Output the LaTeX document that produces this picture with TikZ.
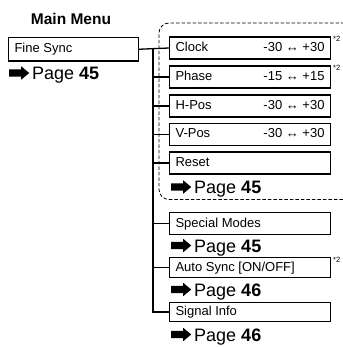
\documentclass[tikz,border=0pt]{standalone}
\usepackage{fontspec}
\setmainfont{Liberation Sans}
\usetikzlibrary{shapes.arrows}
\begin{document}
\begin{tikzpicture}[x=1pt,y=-1pt,
  menubox/.style={draw, line width=1.1pt, anchor=west, inner xsep=6pt, inner ysep=0pt,
    minimum height=22pt, text height=9.5pt, text depth=2.5pt,
    font=\fontsize{13}{13}\selectfont},
  smallbox/.style={menubox, minimum height=19.5pt},
  pagetext/.style={anchor=base west, inner sep=0pt, font=\fontsize{18}{18}\selectfont},
  pagearrow/.style={single arrow, fill=black, draw=none, anchor=tail, inner sep=3.5pt,
    minimum height=20pt, single arrow head extend=3pt, single arrow tip angle=80},
  note/.style={anchor=north west, inner sep=0pt, font=\fontsize{7.5}{7.5}\selectfont},
  conn/.style={line width=1.3pt},
]
\useasboundingbox (0,0) rectangle (342,347);

% dashed group frame
\draw[line width=0.8pt, dash pattern=on 3.5pt off 2pt, rounded corners=10pt]
  (350,23) -- (159,23) -- (159,199.5) -- (350,199.5);

\node[anchor=base, inner sep=0pt, font=\bfseries\fontsize{15.5}{15.5}\selectfont] (title) at (71,25) {Main Menu};

\node[menubox, minimum height=23.5pt] (fine) at (8,49.25) {\makebox[118pt][l]{Fine Sync}};
\node[pagearrow] (a0) at (9,73) {};
\node[pagetext] (p0) at (32,79.5) {Page \textbf{45}};

\node[menubox] (clock) at (169,48) {\makebox[149pt]{Clock\hfill-30 ↔ +30}};
\node[menubox] (phase) at (169,77) {\makebox[149pt]{Phase\hfill-15 ↔ +15}};
\node[menubox] (hpos)  at (169,106) {\makebox[149pt]{H-Pos\hfill-30 ↔ +30}};
\node[menubox] (vpos)  at (169,134.5) {\makebox[149pt]{V-Pos\hfill-30 ↔ +30}};
\node[menubox] (reset) at (169,163) {\makebox[149pt][l]{Reset}};
\node[pagearrow] (a1) at (171,187) {};
\node[pagetext] (p1) at (194,193.5) {Page \textbf{45}};

\node[menubox] (special) at (169,223.5) {\makebox[149pt][l]{Special Modes}};
\node[pagearrow] (a2) at (171,245.5) {};
\node[pagetext] (p2) at (194,252) {Page \textbf{45}};

\node[smallbox] (auto) at (169,267.5) {\makebox[149pt][l]{Auto Sync [ON/OFF]}};
\node[pagearrow] (a3) at (171,289.5) {};
\node[pagetext] (p3) at (194,296) {Page \textbf{46}};

\node[smallbox] (signal) at (169,312) {\makebox[149pt][l]{Signal Info}};
\node[pagearrow] (a4) at (171,334.5) {};
\node[pagetext] (p4) at (194,341) {Page \textbf{46}};

\node[note] (n1) at (333,36) {*2};
\node[note] (n2) at (333,65) {*2};
\node[note] (n3) at (333,257) {*2};

% connectors
\coordinate (bus) at (153,0);
\draw[conn] (fine.east) -- (clock.west);
\draw[conn] (bus |- clock.west) -- (bus |- signal.west) -- (signal.west);
\foreach \n in {phase,hpos,vpos,reset,special,auto}
  \draw[conn] (bus |- \n.west) -- (\n.west);
\end{tikzpicture}
\end{document}
